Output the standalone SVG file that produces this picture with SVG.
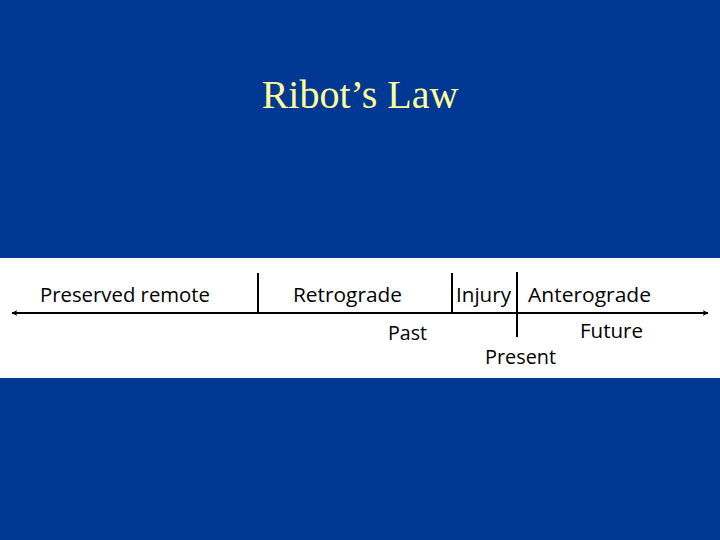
<svg xmlns="http://www.w3.org/2000/svg" width="720" height="540" viewBox="0 0 720 540">
<style>
.t{font-family:"Open Sans",sans-serif;font-size:20px;fill:#000}
.l{stroke:#000;stroke-width:2;fill:none}
</style>
<defs>
<marker id="a" viewBox="0 0 10 10" refX="9" refY="5" markerWidth="6" markerHeight="6" orient="auto-start-reverse" markerUnits="userSpaceOnUse"><path d="M0,0 L10,5 L0,10 L3,5 z" fill="#000"/></marker>
</defs>
<rect width="720" height="540" fill="#003893"/>
<text x="360" y="108" text-anchor="middle" font-family="Liberation Serif,serif" font-size="40" fill="#FFFF99">Ribot’s Law</text>
<rect x="0" y="258" width="720" height="120" fill="#fff"/>
<g id="connectors">
<line class="l" x1="12" y1="313" x2="708" y2="313" marker-start="url(#a)" marker-end="url(#a)" style="stroke-width:2"/>
<line class="l" x1="258" y1="273" x2="258" y2="312"/>
<line class="l" x1="452" y1="273" x2="452" y2="312"/>
<line class="l" x1="517" y1="272" x2="517" y2="337"/>
</g>
<g id="labels">
<text class="t" x="40" y="302" textLength="170" lengthAdjust="spacingAndGlyphs">Preserved remote</text>
<text class="t" x="293" y="302" textLength="109" lengthAdjust="spacingAndGlyphs">Retrograde</text>
<text class="t" x="456" y="302" textLength="55" lengthAdjust="spacingAndGlyphs">Injury</text>
<text class="t" x="528" y="302" textLength="123" lengthAdjust="spacingAndGlyphs">Anterograde</text>
<text class="t" x="388" y="340" textLength="39" lengthAdjust="spacingAndGlyphs">Past</text>
<text class="t" x="580" y="338" textLength="63" lengthAdjust="spacingAndGlyphs">Future</text>
<text class="t" x="485" y="364" textLength="71" lengthAdjust="spacingAndGlyphs">Present</text>
</g>
</svg>
